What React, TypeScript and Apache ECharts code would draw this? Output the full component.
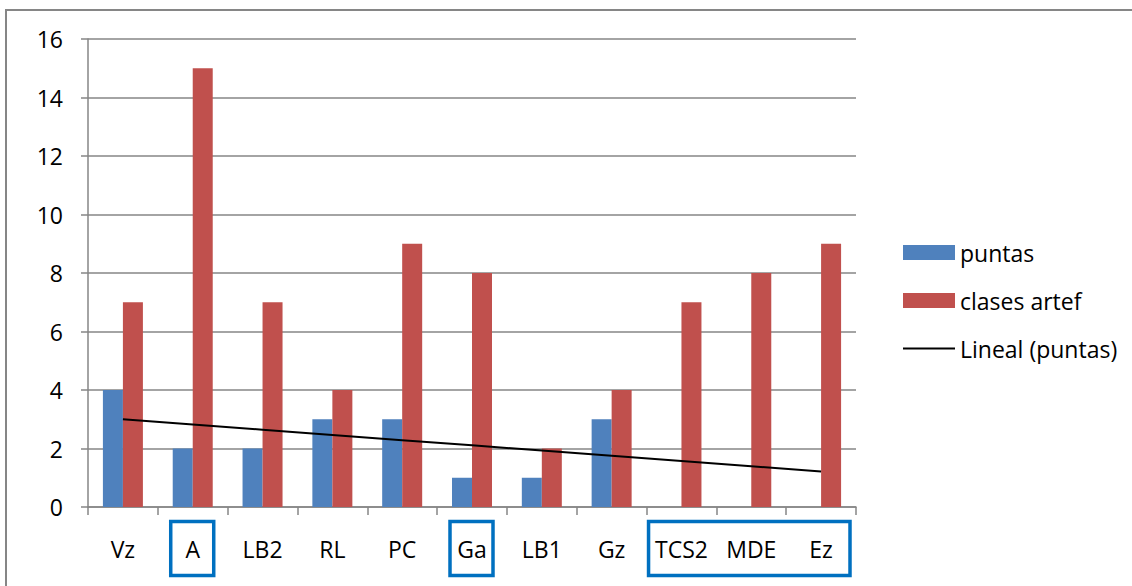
import React, { useEffect, useRef } from "react";
import * as echarts from "echarts";

const categories = ["Vz", "A", "LB2", "RL", "PC", "Ga", "LB1", "Gz", "TCS2", "MDE", "Ez"];
const puntas: (number | null)[] = [4, 2, 2, 3, 3, 1, 1, 3, null, null, null];
const clasesArtef = [7, 15, 7, 4, 9, 8, 2, 4, 7, 8, 9];
const yTicks = { min: 0, max: 16, interval: 2 };
const boxedGroups: [number, number][] = [[1, 1], [5, 5], [8, 10]];

function linearTrend(values: (number | null)[]): number[] {
  const pts: [number, number][] = [];
  values.forEach((v, i) => {
    if (v !== null) pts.push([i + 1, v]);
  });
  const n = pts.length;
  const mx = pts.reduce((s, p) => s + p[0], 0) / n;
  const my = pts.reduce((s, p) => s + p[1], 0) / n;
  let sxy = 0, sxx = 0;
  pts.forEach(([x, y]) => {
    sxy += (x - mx) * (y - my);
    sxx += (x - mx) * (x - mx);
  });
  const b = sxy / sxx;
  const a = my - b * mx;
  return values.map((_, i) => a + b * (i + 1));
}

const FONT = "'Open Sans', 'Noto Sans', sans-serif";
const FS = 23;

export default function App() {
  const ref = useRef<HTMLDivElement>(null);
  useEffect(() => {
    if (!ref.current) return;
    const chart = echarts.init(ref.current, null, { renderer: "svg" });
    const trend = linearTrend(puntas);
    chart.setOption({
      animation: false,
      backgroundColor: "#fff",
      textStyle: { fontFamily: FONT },
      grid: { left: 88, right: 276, top: 39, bottom: 79 },
      legend: {
        orient: "vertical",
        left: 897,
        top: 236,
        itemWidth: 52,
        itemHeight: 15,
        itemGap: 25,
        textStyle: { fontSize: FS, color: "#000", fontFamily: FONT, lineHeight: 23 },
        data: [
          { name: "puntas", icon: "rect" },
          { name: "clases artef", icon: "rect" },
          { name: "Lineal (puntas)", itemStyle: { opacity: 0 } },
        ],
      },
      xAxis: {
        type: "category",
        data: categories,
        axisLine: { lineStyle: { color: "#868686", width: 1.5 } },
        axisTick: { show: true, length: 8, lineStyle: { color: "#868686", width: 1.5 } },
        axisLabel: { color: "#000", fontSize: FS, fontFamily: FONT, margin: 30 },
      },
      yAxis: {
        type: "value",
        min: yTicks.min,
        max: yTicks.max,
        interval: yTicks.interval,
        axisLine: { show: true, lineStyle: { color: "#868686", width: 1.5 } },
        axisTick: { show: true, length: 7, lineStyle: { color: "#868686", width: 1.5 } },
        axisLabel: { color: "#000", fontSize: FS, fontFamily: FONT, margin: 25 },
        splitLine: { lineStyle: { color: "#868686", width: 1.5 } },
      },
      series: [
        {
          name: "puntas",
          type: "bar",
          data: puntas,
          barWidth: 20,
          barGap: "0%",
          itemStyle: { color: "#4F81BD" },
        },
        {
          name: "clases artef",
          type: "bar",
          data: clasesArtef,
          barWidth: 20,
          barGap: "0%",
          itemStyle: { color: "#C0504D" },
        },
        {
          name: "Lineal (puntas)",
          type: "line",
          data: trend,
          symbol: "none",
          showSymbol: false,
          lineStyle: { color: "#000", width: 2 },
          itemStyle: { color: "#000" },
          z: 5,
        },
      ],
    });

    const half = (chart.convertToPixel({ xAxisIndex: 0 }, 1) as number) -
      (chart.convertToPixel({ xAxisIndex: 0 }, 0) as number);
    const boxes = boxedGroups.map(([s, e]) => {
      const xs = chart.convertToPixel({ xAxisIndex: 0 }, s) as number;
      const xe = chart.convertToPixel({ xAxisIndex: 0 }, e) as number;
      let x0: number, x1: number;
      if (s === e) {
        x0 = xs - 22;
        x1 = xs + 21;
      } else {
        x0 = xs - half / 2 + 2;
        x1 = xe + half / 2 - 6;
      }
      return {
        type: "rect",
        shape: { x: x0, y: 521.5, width: x1 - x0, height: 54 },
        style: { fill: "none", stroke: "#0070C0", lineWidth: 3.5 },
        z: 10,
      };
    });
    chart.setOption({
      graphic: [
        {
          type: "rect",
          shape: { x: 6, y: 10, width: 1140, height: 600 },
          style: { fill: "none", stroke: "#868686", lineWidth: 2 },
          z: 10,
        },
        ...boxes,
      ],
    });
    return () => chart.dispose();
  }, []);
  return (
    <div
      ref={ref}
      style={{ position: "absolute", left: 0, top: 0, width: 1132, height: 586 }}
    />
  );
}
